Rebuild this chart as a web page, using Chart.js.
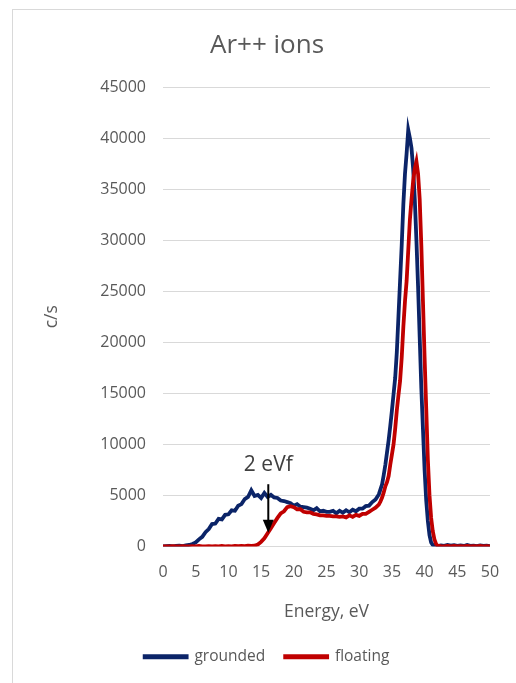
<!DOCTYPE html>
<html>
<head>
<meta charset="utf-8">
<script src="https://cdn.jsdelivr.net/npm/chart.js@4.4.1/dist/chart.umd.min.js"></script>
<style>
  html, body { margin: 0; padding: 0; background: #fff; overflow: hidden; width: 516px; height: 683px; }
  #frame { position: absolute; left: 12px; top: 9px; width: 508px; height: 680px; border: 1px solid #d9d9d9; }
</style>
</head>
<body>
<div id="frame"><canvas id="chart"></canvas></div>
<script>
  // energy axis, eV
  const energy = [
    0, 0.5, 1, 1.5, 2, 2.5, 3, 3.5, 4, 4.5, 5, 5.5, 6, 6.5, 7, 7.5, 8, 8.5, 9, 9.5,
    10, 10.5, 11, 11.5, 12, 12.5, 13, 13.5, 14, 14.5, 15, 15.5, 16, 16.5, 17, 17.5, 18, 18.5, 19, 19.5,
    20, 20.5, 21, 21.5, 22, 22.5, 23, 23.5, 24, 24.5, 25, 25.5, 26, 26.5, 27, 27.5, 28, 28.5, 29, 29.5,
    30, 30.5, 31, 31.5, 32, 32.5, 33,
    33.25, 33.5, 33.75, 34, 34.25, 34.5, 34.75, 35, 35.25, 35.5, 35.75, 36, 36.25, 36.5, 36.75,
    37, 37.25, 37.5, 37.75, 38, 38.25, 38.5, 38.75, 39, 39.25, 39.5, 39.75, 40, 40.25, 40.5, 40.75,
    41, 41.25, 41.5, 41.75, 42,
    42.5, 43, 43.5, 44, 44.5, 45, 45.5, 46, 46.5, 47, 47.5, 48, 48.5, 49, 49.5, 50
  ];

  // c/s
  const grounded = [
    0, 30, 60, 20, 50, 80, 40, 100,
    150, 250, 400, 700, 950, 1400, 1700, 2200,
    2250, 2700, 2650, 3100, 3150, 3550, 3500, 4000,
    4150, 4650, 4850, 5500, 4950, 5050, 4750, 5250,
    4850, 5050, 4800, 4750, 4500, 4450, 4350, 4250,
    4000, 4150, 3900, 3850, 3800, 3700, 3550, 3750,
    3450, 3500, 3400, 3400, 3500, 3250, 3500, 3300,
    3550, 3350, 3600, 3450, 3700, 3700, 3950, 4000,
    4350, 4600, 5100,
    5600, 6100, 7000, 8000, 9200, 10400, 11800, 13300, 14900, 16500, 19000, 22500,
    26000, 29500, 33500, 36500, 38500, 40800, 40000, 39000, 37000, 34000, 30000, 25500,
    20500, 15500, 11500, 7500, 4500, 2500, 1100, 400, 150, 80, 60, 40,
    100, 60, 150, 80, 120, 60, 100, 50, 140, 60, 90, 40, 110, 60, 80, 40
  ];

  const floating = [
    0, 20, 0, 30, 10, 0, 40, 20,
    0, 30, 10, 50, 20, 0, 40, 10,
    30, 0, 50, 20, 40, 10, 60, 30,
    50, 40, 80, 60, 80, 200, 450, 800,
    1300, 1800, 2300, 2800, 3250, 3450, 3850, 3950,
    3850, 3650, 3650, 3400, 3350, 3350, 3200, 3150,
    3050, 3050, 3000, 3000, 2950, 2950, 2900, 2950,
    2850, 3050, 2900, 3100, 3000, 3200, 3200, 3400,
    3600, 3800, 4100,
    4400, 4800, 5300, 5900, 6300, 6900, 8000, 9000, 10000, 11500, 13300, 14800,
    16200, 18500, 21500, 24000, 26000, 29000, 32000, 34000, 35800, 37000, 37700, 36500,
    34000, 29500, 24000, 18500, 13500, 8500, 5000, 2800, 1500, 700, 250, 80,
    40, 10, 60, 20, 50, 0, 40, 20, 60, 10, 40, 0, 50, 20, 40, 10
  ];

  const seriesNames = ['grounded', 'floating'];
  const seriesColors = ['#0b2468', '#c00000'];

  // annotation: arrow marking 2 eVf
  const markLabel = '2 eVf';
  const markEnergy = 16.1;
  const markTextValue = 8000;
  const markTop = 6100;
  const markTip = 1350;

  let grey = '#595959';
  let font = 'Open Sans';

  let arrowPlugin = {
    id: 'arrow',
    afterDatasetsDraw(chart) {
      let { ctx, scales: { x, y } } = chart;
      let px = x.getPixelForValue(markEnergy);
      let y0 = y.getPixelForValue(markTop);
      let y1 = y.getPixelForValue(markTip);
      ctx.save();
      ctx.strokeStyle = '#000';
      ctx.fillStyle = '#000';
      ctx.lineWidth = 2;
      ctx.beginPath();
      ctx.moveTo(px, y0);
      ctx.lineTo(px, y1 - 10);
      ctx.stroke();
      ctx.beginPath();
      ctx.moveTo(px - 5.5, y1 - 13);
      ctx.lineTo(px + 5.5, y1 - 13);
      ctx.lineTo(px, y1);
      ctx.closePath();
      ctx.fill();
      ctx.fillStyle = '#404040';
      ctx.font = `21px "${font}"`;
      ctx.textAlign = 'center';
      ctx.textBaseline = 'middle';
      ctx.fillText(markLabel, px, y.getPixelForValue(markTextValue));
      ctx.restore();
    }
  };

  let makeSet = (i, values, order) => ({
    label: seriesNames[i],
    data: energy.map((e, k) => ({ x: e, y: values[k] })),
    borderColor: seriesColors[i],
    backgroundColor: seriesColors[i],
    borderWidth: 3.8,
    pointRadius: 0,
    tension: 0,
    order
  });

  new Chart(document.getElementById('chart').getContext('2d'), {
    type: 'line',
    data: {
      datasets: [makeSet(0, grounded, 2), makeSet(1, floating, 1)]
    },
    plugins: [arrowPlugin],
    options: {
      responsive: true,
      maintainAspectRatio: false,
      animation: false,
      layout: { padding: { left: 0, right: 0, top: 0, bottom: 15.5 } },
      plugins: {
        tooltip: { enabled: false },
        title: {
          display: true,
          text: 'Ar++ ions',
          color: grey,
          font: { family: font, size: 26, weight: 'normal' },
          padding: { top: 20.4, bottom: 25.4 }
        },
        legend: {
          position: 'bottom',
          labels: {
            color: grey,
            font: { family: font, size: 15.5 },
            boxWidth: 42,
            boxHeight: 1,
            padding: 20,
            sort: (a, b) => a.datasetIndex - b.datasetIndex
          }
        }
      },
      scales: {
        x: {
          type: 'linear',
          min: 0,
          max: 50,
          grid: { display: false, drawTicks: false },
          border: { display: false },
          ticks: { stepSize: 5, color: grey, padding: 16, font: { family: font, size: 16 } },
          title: {
            display: true,
            text: 'Energy, eV',
            color: grey,
            font: { family: font, size: 17.5 },
            padding: { top: 0, bottom: 6.3 }
          },
          afterFit: scale => { scale.height = 82.5; }
        },
        y: {
          min: 0,
          max: 45000,
          grid: { color: '#d9d9d9', lineWidth: 1, drawTicks: false },
          border: { display: false },
          ticks: {
            stepSize: 5000, color: grey, padding: 17,
            font: { family: font, size: 16 },
            format: { useGrouping: false }
          },
          title: {
            display: true,
            text: 'c/s',
            color: grey,
            font: { family: font, size: 17.5 },
            padding: { top: 28.8, bottom: 0 }
          },
          afterFit: scale => { scale.width = 150; }
        },
        // empty strip on the right so the plot ends where the reference does
        spacer: {
          type: 'linear',
          position: 'right',
          display: true,
          grid: { display: false, drawTicks: false },
          border: { display: false },
          ticks: { display: false },
          afterFit: scale => { scale.width = 31; }
        }
      }
    }
  });
</script>
</body>
</html>
